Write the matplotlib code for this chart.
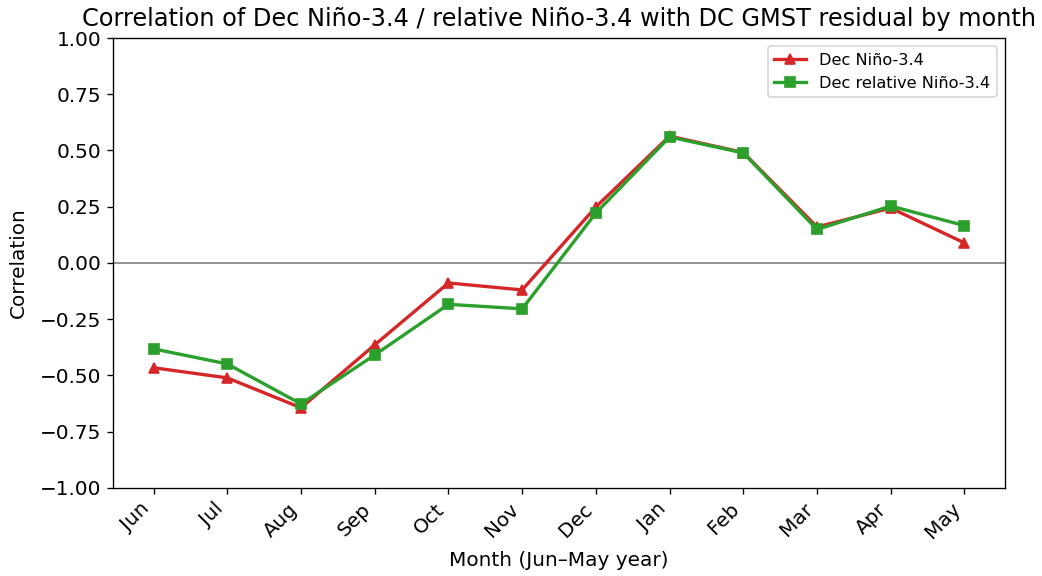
import numpy as np
import matplotlib as mpl
mpl.use('Agg')
import matplotlib.pyplot as plt

months = ['Jun', 'Jul', 'Aug', 'Sep', 'Oct', 'Nov', 'Dec', 'Jan', 'Feb', 'Mar', 'Apr', 'May']
corr_nino = [-0.466, -0.511, -0.644, -0.364, -0.089, -0.120, 0.249, 0.564, 0.491, 0.160, 0.244, 0.089]
corr_rel = [-0.382, -0.449, -0.627, -0.409, -0.184, -0.204, 0.222, 0.560, 0.489, 0.149, 0.253, 0.166]

# reference looks like a 120 dpi render
fig = plt.figure(figsize=(1042 / 120, 576 / 120), dpi=120)
ax = fig.add_axes([0.1085, 0.153, 0.856, 0.781])

x = np.arange(len(months))
ax.axhline(0, color='grey', linewidth=1)
ax.plot(x, corr_nino, '-^', color='tab:red', linewidth=2, markersize=6, label='Dec Niño-3.4')
ax.plot(x, corr_rel, '-s', color='tab:green', linewidth=2, markersize=6, label='Dec relative Niño-3.4')

ax.set_ylim(-1, 1)
ax.set_yticks(np.arange(-1, 1.01, 0.25))
ax.set_xticks(x)
ax.set_xticklabels(months, rotation=45, ha='right')
ax.tick_params(labelsize=12)
ax.set_xlabel('Month (Jun–May year)', fontsize=12, labelpad=5)
ax.set_ylabel('Correlation', fontsize=12, labelpad=7)
ax.set_title('Correlation of Dec Niño-3.4 / relative Niño-3.4 with DC GMST residual by month',
             fontsize=14.4, pad=7)
ax.legend(loc='upper right', fontsize=9.7)

fig.savefig('out.png', dpi=120)
